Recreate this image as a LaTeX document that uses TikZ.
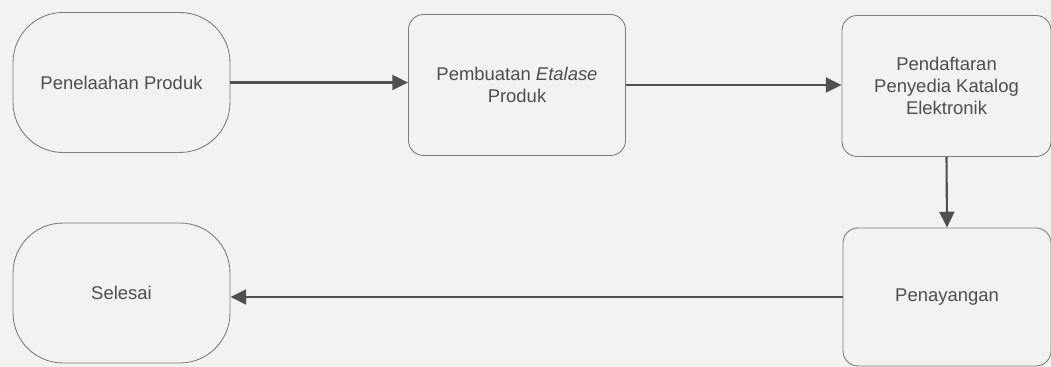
\documentclass[tikz,border=0pt]{standalone}
\usepackage{fontspec}
\setmainfont{Liberation Sans}
\usepackage{xcolor}
\usetikzlibrary{arrows.meta}

\definecolor{bggray}{HTML}{F2F2F1}
\definecolor{boxgray}{HTML}{7C7C7C}
\definecolor{textgray}{HTML}{4E4E4E}
\definecolor{linegray}{HTML}{505050}

\begin{document}
\begin{tikzpicture}[x=0.02cm, y=-0.02cm,
      box/.style = {draw=boxgray, line width=0.5pt, align=center,
        text=textgray, font=\fontsize{10.5}{12.6}\selectfont},
      terminal/.style = {box, rounded corners=1cm,
        minimum width=4.34cm, minimum height=2.8cm},
      process/.style = {box, rounded corners=0.3cm,
        minimum height=2.82cm},
      flow/.style = {draw=linegray, line width=1.2pt,
        -{Triangle[length=9pt,width=8.5pt]}}]
    \fill[bggray] (0,0) rectangle (1051,367);
    \useasboundingbox (0,0) rectangle (1051,367);
    % upper row
    \node[terminal] (telaah) at (121.5,82.5) {Penelaahan Produk};
    \node[process, minimum width=4.34cm] (etalase) at (517,85)
      {Pembuatan \textit{Etalase}\\Produk};
    \node[process, minimum width=4.18cm] (daftar) at (946.5,86)
      {Pendaftaran\\Penyedia Katalog\\Elektronik};
    % lower row
    \node[process, minimum width=4.16cm, minimum height=2.76cm] (tayang) at (947,297)
      {Penayangan};
    \node[terminal] (selesai) at (121.5,293) {Selesai};
    % connectors
    \draw[flow] (telaah.east) -- (telaah.east -| etalase.west);
    \draw[flow] (etalase.east) -- (etalase.east -| daftar.west);
    \draw[flow] (daftar.south) -- (tayang.north);
    \draw[flow] (tayang.west) -- (tayang.west -| selesai.east);
  \end{tikzpicture}
\end{document}
